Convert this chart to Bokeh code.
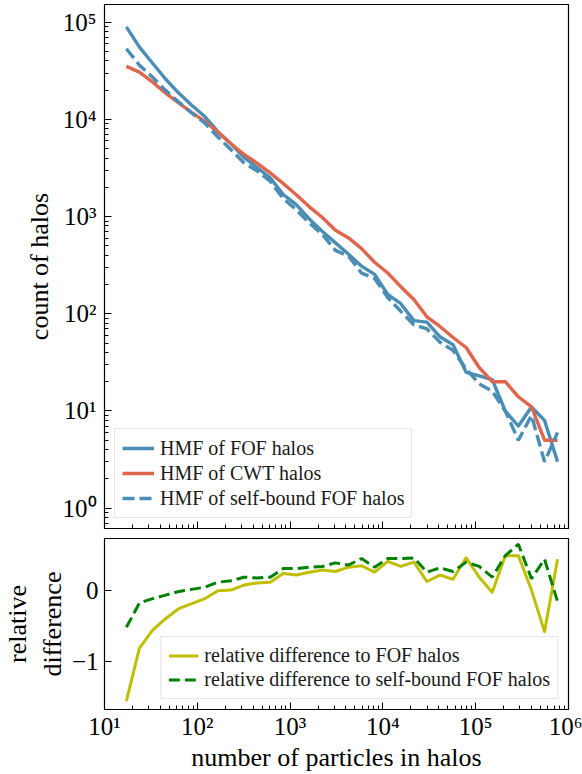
from bokeh.plotting import figure
from bokeh.models import Range1d, FixedTicker
from bokeh.layouts import column
from bokeh.embed import file_html
from bokeh.resources import INLINE

# ---------------- data ----------------
n_particles = [17.2, 23.8, 33.0, 45.5, 63.0, 87.1, 120.5, 166.7, 230, 318,
               441, 610, 843, 1165, 1611, 2228, 3083, 4266, 5888, 8147,
               11270, 15600, 21580, 29790, 41210, 57020, 78890, 109100,
               150700, 208400, 288400, 399000, 552100, 762100]

hmf_fof = [89500, 55400, 37750, 26040, 18650, 13980, 10700, 7474, 5620, 4060,
           3195, 2510, 1686, 1327, 945, 703, 536, 410, 309, 254,
           158, 127, 85, 82, 58, 48, 25, 23, 21, 10, 7, 11, 8, 3]

hmf_cwt = [35100, 30600, 24200, 18600, 14800, 11750, 9550, 7400, 5620, 4365,
           3550, 2820, 2190, 1680, 1260, 977, 724, 603, 468, 339,
           263, 190, 140, 93, 74, 57, 45, 28, 20, 20, 14, 11, 5, 5]

hmf_sb = [53350, 36100, 27100, 19900, 15100, 11630, 9170, 6590, 4890, 3580,
          2950, 2310, 1533, 1176, 857, 655, 449, 392, 262, 231,
          147, 106, 77, 70, 51, 42, 27, 19, 16, 10, 5, 9, 3, 6]

rel_diff_fof = [-1.55, -0.81, -0.56, -0.40, -0.26, -0.19, -0.12, -0.01, 0.00, 0.07,
                0.10, 0.11, 0.23, 0.21, 0.25, 0.28, 0.26, 0.32, 0.34, 0.25,
                0.40, 0.33, 0.39, 0.12, 0.21, 0.15, 0.45, 0.18, -0.03, 0.48,
                0.48, 0.00, -0.58, 0.43]

rel_diff_sb = [-0.52, -0.18, -0.12, -0.07, -0.02, 0.01, 0.04, 0.11, 0.13, 0.18,
               0.17, 0.18, 0.30, 0.30, 0.32, 0.33, 0.38, 0.35, 0.44, 0.32,
               0.44, 0.44, 0.45, 0.25, 0.31, 0.26, 0.39, 0.33, 0.18, 0.48,
               0.64, 0.16, 0.43, -0.16]

x_ticks = [10, 100, 1000, 10000, 100000, 1000000]
x_tick_labels = ["10\u00b9", "10\u00b2", "10\u00b3", "10\u2074", "10\u2075", "10\u2076"]
y_ticks = [1, 10, 100, 1000, 10000, 100000]
y_tick_labels = ["10\u2070", "10\u00b9", "10\u00b2", "10\u00b3", "10\u2074", "10\u2075"]
rd_ticks = [-1, 0]
rd_tick_labels = ["\u22121", "0"]

# ---------------- style ----------------
FONT = "Liberation Serif"
BLUE = "#4a8db5"
RED = "#e0654d"
YELLOW = "#bfbf00"
GREEN = "#008000"

x_minor = [k * 10 ** e for e in range(1, 6) for k in range(2, 10)]
y_minor = [k * 10 ** e for e in range(-1, 6) for k in range(2, 10)]


def style_axis(ax, ticks, labels, minor, fs="25px"):
    ax.ticker = FixedTicker(ticks=ticks, minor_ticks=minor)
    ax.major_label_overrides = dict(zip(ticks, labels))
    ax.major_tick_in = 7
    ax.major_tick_out = 0
    ax.minor_tick_in = 4
    ax.minor_tick_out = 0
    ax.axis_line_color = "black"
    ax.major_tick_line_color = "black"
    ax.minor_tick_line_color = "black"
    ax.major_label_text_font = FONT
    ax.major_label_text_font_size = fs
    ax.major_label_text_color = "black"
    ax.axis_label_text_font = FONT
    ax.axis_label_text_font_size = "26px"
    ax.axis_label_text_font_style = "normal"
    ax.axis_label_text_color = "black"


def style_fig(p):
    p.xgrid.visible = False
    p.ygrid.visible = False
    p.outline_line_color = "black"
    p.outline_line_width = 1.2
    p.outline_line_alpha = 1.0
    p.background_fill_color = "white"
    p.border_fill_color = "white"


# ---------------- top panel ----------------
p1 = figure(width=582, height=538, x_axis_type="log", y_axis_type="log",
            x_range=Range1d(10, 1e6), y_range=Range1d(0.618, 1.52e5),
            output_backend="svg", toolbar_location=None,
            min_border_left=102, min_border_right=14,
            min_border_top=4, min_border_bottom=10)
style_fig(p1)

p1.line(n_particles, hmf_fof, line_color=BLUE, line_width=3.4, line_join="round",
        legend_label="HMF of FOF halos")
p1.line(n_particles, hmf_cwt, line_color=RED, line_width=3.4, line_join="round",
        legend_label="HMF of CWT halos")
p1.line(n_particles, hmf_sb, line_color=BLUE, line_width=3.4, line_dash="12 5",
        legend_label="HMF of self-bound FOF halos")

style_axis(p1.yaxis[0], y_ticks, y_tick_labels, y_minor)
p1.yaxis[0].major_label_standoff = 8
p1.yaxis[0].axis_label = "count of halos"
p1.yaxis[0].axis_label_standoff = 6
style_axis(p1.xaxis[0], x_ticks, [""] * len(x_ticks), x_minor, fs="1px")
p1.xaxis[0].major_label_standoff = 0

lg1 = p1.legend[0]
lg1.location = "bottom_left"
lg1.margin = 10
lg1.padding = 7
lg1.spacing = 1
lg1.glyph_width = 32
lg1.glyph_height = 24
lg1.label_height = 24
lg1.label_standoff = 6
lg1.label_text_font = FONT
lg1.label_text_font_size = "20px"
lg1.label_text_color = "#1a1a1a"
lg1.border_line_color = "#cccccc"
lg1.border_line_width = 1
lg1.background_fill_alpha = 0.8

# ---------------- bottom panel ----------------
p2 = figure(width=582, height=236, x_axis_type="log",
            x_range=p1.x_range, y_range=Range1d(-1.667, 0.72),
            output_backend="svg", toolbar_location=None,
            min_border_left=102, min_border_right=14,
            min_border_top=0, min_border_bottom=62)
style_fig(p2)

p2.line(n_particles, rel_diff_fof, line_color=YELLOW, line_width=3, line_join="round",
        legend_label="relative difference to FOF halos")
p2.line(n_particles, rel_diff_sb, line_color=GREEN, line_width=3, line_dash="11 5",
        legend_label="relative difference to self-bound FOF halos")

style_axis(p2.xaxis[0], x_ticks, x_tick_labels, x_minor)
p2.xaxis[0].major_label_standoff = 3
p2.xaxis[0].axis_label = "number of particles in halos"
p2.xaxis[0].axis_label_standoff = 0
style_axis(p2.yaxis[0], rd_ticks, rd_tick_labels, [])
p2.yaxis[0].major_label_standoff = 6
p2.yaxis[0].axis_label = "relative\ndifference"
p2.yaxis[0].axis_label_standoff = 2

lg2 = p2.legend[0]
lg2.location = "bottom_right"
lg2.margin = 10
lg2.padding = 7
lg2.spacing = 1
lg2.glyph_width = 30
lg2.glyph_height = 23
lg2.label_height = 23
lg2.label_standoff = 6
lg2.label_text_font = FONT
lg2.label_text_font_size = "20px"
lg2.label_text_color = "#1a1a1a"
lg2.border_line_color = "#cccccc"
lg2.border_line_width = 1
lg2.background_fill_alpha = 0.8

layout = column(p1, p2, spacing=0)
open("out.html", "w").write(file_html(layout, INLINE))
